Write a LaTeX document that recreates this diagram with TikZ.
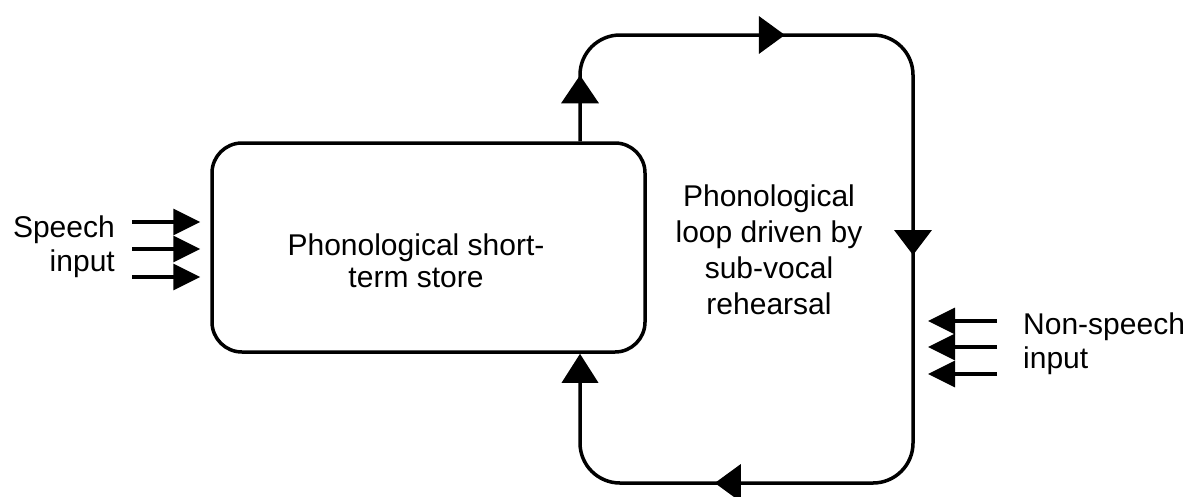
\documentclass[tikz,border=0pt]{standalone}
\usepackage{fontspec}
\setmainfont{Liberation Sans}
\usetikzlibrary{arrows.meta,decorations.markings}
\begin{document}
\begin{tikzpicture}[x=1pt,y=-1pt,
  lw/.style={line width=3.5pt},
  inarrow/.style={lw,-{Triangle[length=27pt,width=26pt]}},
  txt/.style={inner sep=0pt,font=\fontsize{30}{34}\selectfont},
]
\useasboundingbox (0,0) rectangle (1190,496);
% store box
\node[lw, draw, rounded corners=30pt, minimum width=433pt, minimum height=209pt, inner sep=0pt] (box) at (428.5,247.5) {};
\node[txt, align=center, font=\fontsize{30}{32}\selectfont] (stslabel) at (416,261) {Phonological short-\\term store};
% loop
\coordinate (lx) at (580,0);
\coordinate (rx) at (913,35);
\coordinate (bt) at (580,483);
\draw[lw, rounded corners=40pt, -{Triangle[length=29pt,width=36pt]},
  decoration={markings,
    mark=at position 66pt with {\arrow{Triangle[length=28pt,width=37pt]}},
    mark=at position 294pt with {\arrow{Triangle[length=26pt,width=37pt]}},
    mark=at position 625pt with {\arrow{Triangle[length=25pt,width=37pt]}},
    mark=at position 1034pt with {\arrow{Triangle[length=26pt,width=37pt]}}},
  postaction={decorate}]
  (box.north -| lx) -- (lx |- rx) -- (rx) -- (rx |- bt) -- (bt) -- (box.south -| lx);
\node[txt, align=center, font=\fontsize{30}{36}\selectfont] (looplabel) at (769,250) {Phonological\\loop driven by\\sub-vocal\\rehearsal};
% speech input
\node[txt, align=right, anchor=east] (speech) at (115,247) {Speech\\input};
\coordinate (s1) at (132,222);
\coordinate (s2) at (132,249);
\coordinate (s3) at (132,277);
\foreach \s in {s1,s2,s3}
  \draw[inarrow, shorten >=10pt] (\s) -- (box.west |- \s);
% non-speech input
\node[txt, align=left, anchor=west] (nonspeech) at (1023,344) {Non-speech\\input};
\coordinate (n1) at (997,321);
\coordinate (n2) at (997,347);
\coordinate (n3) at (997,374);
\foreach \n in {n1,n2,n3}
  \draw[inarrow, shorten >=15pt] (\n) -- (rx |- \n);
\end{tikzpicture}
\end{document}
